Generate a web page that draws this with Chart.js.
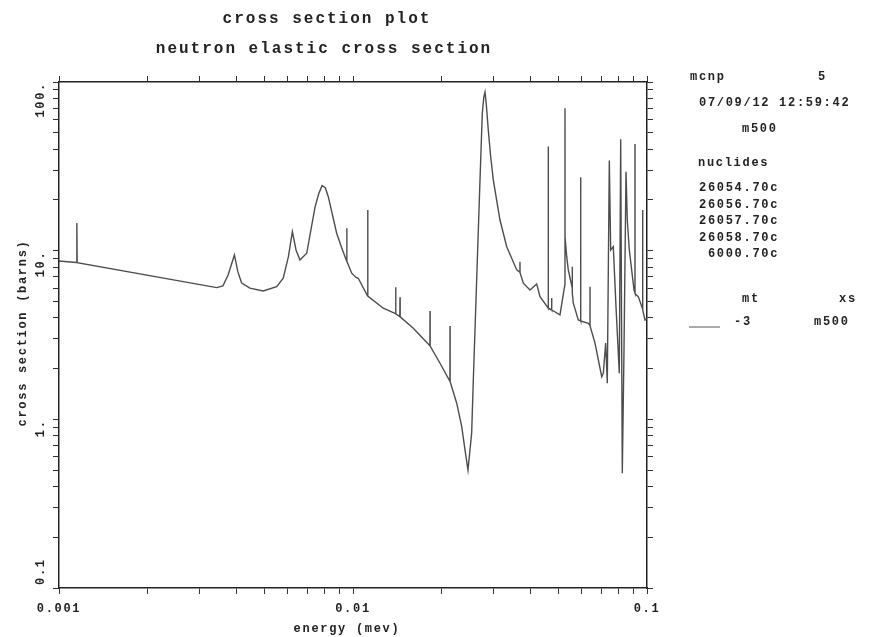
<!DOCTYPE html>
<html>
<head>
<meta charset="utf-8">
<title>cross section plot</title>
<script src="https://cdn.jsdelivr.net/npm/chart.js@4.4.1/dist/chart.umd.min.js"></script>
<style>
  body { margin: 0; background: #fff; }
  canvas { display: block; }
</style>
</head>
<body>
<canvas id="xsChart" width="869" height="637"></canvas>
<script>
// Data (energy in MeV, cross section in barns)
const energy = [
  0.00100, 0.001147, 0.00115, 0.001153, 0.00344, 0.00361, 0.00376, 0.00395,
  0.00406, 0.00418, 0.00446, 0.00495, 0.00550, 0.00579, 0.00603, 0.00622,
  0.00640, 0.00660, 0.00696, 0.00743, 0.00765, 0.00785, 0.00805, 0.00824, 0.00880,
  0.00915, 0.00950, 0.00952, 0.00954, 0.00990, 0.01024, 0.01042,
  0.01120, 0.01122, 0.01124, 0.01268,
  0.01395, 0.01397, 0.01399, 0.01443, 0.01445, 0.01447, 0.01604,
  0.01826, 0.01828, 0.01830, 0.01977, 0.02136, 0.02138, 0.02140,
  0.02253, 0.02343, 0.02404, 0.02461, 0.02533, 0.02566, 0.02634, 0.02704,
  0.02753, 0.02785, 0.02812, 0.02840, 0.02885, 0.02936, 0.03000, 0.03162, 0.03333, 0.03605,
  0.03696, 0.03698, 0.03700, 0.03796, 0.04000, 0.04215, 0.04326,
  0.04614, 0.04616, 0.04618, 0.04739, 0.04741, 0.04743, 0.05059, 0.05220,
  0.05259, 0.05261, 0.05264, 0.05332, 0.05399, 0.05569, 0.05571, 0.05573,
  0.05615, 0.05839, 0.05948, 0.05950, 0.05952, 0.06314, 0.06398, 0.06400,
  0.06402, 0.06655, 0.07014, 0.07102, 0.07236, 0.07328, 0.07444, 0.07525,
  0.07680, 0.07844, 0.08050, 0.08138, 0.08241, 0.08352, 0.08484, 0.08570,
  0.08706, 0.09032, 0.09101, 0.09103, 0.09105, 0.09341, 0.09667, 0.09669,
  0.09671, 0.09844, 0.1
];
const crossSection = [
  8.69, 8.51, 14.6, 8.50, 6.04, 6.18, 7.18, 9.43,
  7.48, 6.43, 5.99, 5.77, 6.12, 6.86, 9.21, 12.96,
  10.1, 8.81, 9.65, 18.2, 21.8, 24.3, 23.6, 20.9, 12.68,
  10.4, 8.75, 13.6, 8.65, 7.35, 6.94, 6.86,
  5.40, 17.4, 5.38, 4.56,
  4.23, 6.07, 4.22, 4.06, 5.29, 4.05, 3.47,
  2.73, 4.39, 2.72, 2.15, 1.68, 3.58, 1.67,
  1.246, 0.905, 0.659, 0.501, 0.831, 1.71, 6.70, 26.3,
  65.2, 81.0, 87.0, 74.0, 51.9, 36.9, 26.3, 15.2, 10.56, 7.69,
  7.45, 8.61, 7.40, 6.41, 5.85, 6.35, 5.34,
  4.57, 41.4, 4.56, 4.46, 5.24, 4.45, 4.16, 5.85,
  6.3, 69.8, 12.0, 9.21, 7.69, 6.0, 8.04, 5.6,
  4.88, 3.88, 3.84, 27.2, 3.83, 3.71, 3.60, 6.12,
  3.58, 2.83, 1.79, 1.876, 2.83, 1.637, 34.2, 10.1,
  10.56, 4.66, 1.876, 45.7, 0.479, 2.58, 29.4, 15.2,
  10.1, 5.85, 5.6, 42.9, 5.55, 5.34, 4.5, 17.4,
  4.45, 3.88, 3.95
];

// Axis ranges and tick labels
const xDecades = [0.001, 0.01, 0.1];
const xTickLabels = ["0.001", "0.01", "0.1"];
const yDecades = [0.1, 1, 10, 100];
const yTickLabels = ["0.1", "1.", "10.", "100."];
const minorSteps = [2, 3, 4, 5, 6, 7, 8, 9];

// Text around the plot
const titleLines = ["cross section plot", "neutron elastic cross section"];
const xTitle = "energy (mev)";
const yTitle = "cross section (barns)";
const nuclides = ["26054.70c", "26056.70c", "26057.70c", "26058.70c", " 6000.70c"];

const FONT = '"Liberation Mono", "DejaVu Sans Mono", monospace';

// ticks at 1..9 x each decade inside the range
function logTicks(decades) {
  const ticks = [];
  decades.forEach(function (d, i) {
    ticks.push({ value: d });
    if (i < decades.length - 1) {
      minorSteps.forEach(function (m) {
        ticks.push({ value: d * m });
      });
    }
  });
  return ticks;
}

function axis(position, decades, size, horizontal) {
  return {
    type: "logarithmic",
    position: position,
    min: decades[0],
    max: decades[decades.length - 1],
    afterBuildTicks: function (scale) {
      scale.ticks = logTicks(decades);
    },
    afterFit: function (scale) {
      if (horizontal) scale.height = size;
      else scale.width = size;
    },
    ticks: { display: false },
    grid: {
      drawOnChartArea: false,
      drawTicks: true,
      tickLength: 6,
      color: "#333",
      lineWidth: 1,
    },
    border: { display: true, color: "#222", width: 1.5 },
  };
}

function setFont(ctx, size, spacing) {
  ctx.font = "bold " + size + "px " + FONT;
  ctx.letterSpacing = spacing + "px";
}

// Titles, tick labels and the info panel on the right
const textPlugin = {
  id: "mcnpText",
  afterDraw: function (chart) {
    const ctx = chart.ctx;
    const xs = chart.scales.x;
    const ys = chart.scales.y;
    ctx.save();
    ctx.fillStyle = "#222";
    ctx.textBaseline = "middle";

    setFont(ctx, 16, 2);
    ctx.textAlign = "center";
    ctx.fillText(titleLines[0], 327, 19);
    ctx.fillText(titleLines[1], 324, 49);

    setFont(ctx, 12, 1.7);
    xDecades.forEach(function (v, i) {
      ctx.fillText(xTickLabels[i], xs.getPixelForValue(v), 609);
    });
    ctx.fillText(xTitle, 347, 629);

    // rotated y labels
    yDecades.forEach(function (v, i) {
      const py = ys.getPixelForValue(v);
      ctx.save();
      ctx.translate(41, i === 0 ? py - 3 : py);
      ctx.rotate(-Math.PI / 2);
      ctx.textAlign = i === 0 ? "left" : "right";
      ctx.fillText(yTickLabels[i], 0, 0);
      ctx.restore();
    });
    ctx.save();
    ctx.translate(23, 333);
    ctx.rotate(-Math.PI / 2);
    ctx.textAlign = "center";
    ctx.fillText(yTitle, 0, 0);
    ctx.restore();

    // info panel
    ctx.textAlign = "left";
    ctx.fillText("mcnp", 690, 77);
    ctx.fillText("5", 818, 77);
    ctx.fillText("07/09/12 12:59:42", 699, 103);
    ctx.fillText("m500", 742, 129);
    ctx.fillText("nuclides", 698, 163);
    nuclides.forEach(function (n, i) {
      ctx.fillText(n, 699, 188 + i * 16.5);
    });
    ctx.fillText("mt", 742, 299);
    ctx.fillText("xs", 839, 299);
    ctx.fillText("-3", 734, 322);
    ctx.fillText("m500", 814, 322);

    ctx.strokeStyle = "#aaa";
    ctx.lineWidth = 2;
    ctx.beginPath();
    ctx.moveTo(689, 327);
    ctx.lineTo(720, 327);
    ctx.stroke();
    ctx.restore();
  },
};

const points = energy.map(function (e, i) {
  return { x: e, y: crossSection[i] };
});

const ctx = document.getElementById("xsChart").getContext("2d");
const chart = new Chart(ctx, {
  type: "scatter",
  data: {
    datasets: [
      {
        label: "m500",
        data: points,
        showLine: true,
        borderColor: "#4d4d4d",
        borderWidth: 1.4,
        pointRadius: 0,
        tension: 0,
        xAxisID: "x",
        yAxisID: "y",
      },
    ],
  },
  options: {
    responsive: false,
    animation: false,
    layout: { padding: 0 },
    plugins: {
      legend: { display: false },
      tooltip: { enabled: false },
    },
    scales: {
      x: axis("bottom", xDecades, 49, true),
      x2: axis("top", xDecades, 82, true),
      y: axis("left", yDecades, 59, false),
      y2: axis("right", yDecades, 222, false),
    },
  },
  plugins: [textPlugin],
});
</script>
</body>
</html>
